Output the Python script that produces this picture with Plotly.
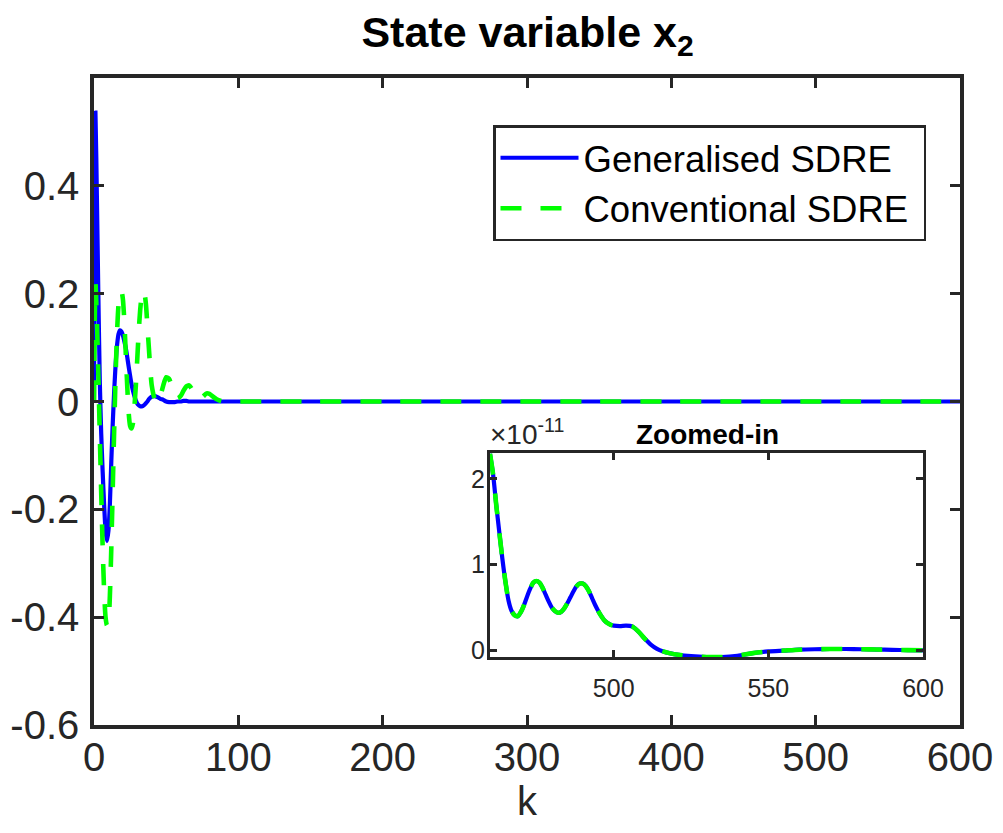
import plotly.graph_objects as go

# ---------------- data ----------------
# early transient, main axes
k_early = [0, 1, 2, 3, 4, 5, 6, 7, 8, 9, 10, 11, 12, 13, 14, 15, 16, 17, 18, 19, 20,
           21, 22, 23, 24, 25, 26, 27, 28, 29, 30, 31, 32, 33, 34, 35, 36, 37, 38, 39, 40,
           42, 44, 46, 48, 50, 52, 54, 56, 58, 60, 62, 64, 66, 68, 70, 72, 75, 78, 80,
           82, 85, 88, 90, 95, 100]
gen_early = [0.0, 0.536, 0.38, 0.20, 0.04, -0.06, -0.13, -0.19, -0.24, -0.259, -0.24,
             -0.19, -0.11, -0.04, 0.02, 0.07, 0.105, 0.125, 0.132, 0.13, 0.123,
             0.112, 0.10, 0.083, 0.065, 0.048, 0.032, 0.02, 0.01, 0.002, -0.004,
             -0.007, -0.009, -0.009, -0.008, -0.006, -0.003, 0.0, 0.004, 0.007, 0.009,
             0.01, 0.008, 0.005, 0.003, 0.0, -0.001, -0.001, -0.001, 0.0, 0.0, 0.001,
             0.001, 0.0, 0.0, 0.0, 0.0, 0.0, 0.0, 0.0,
             0.0, 0.0, 0.0, 0.0, 0.0, 0.0]
conv_early = [0.0, 0.22, 0.15, 0.05, -0.06, -0.17, -0.27, -0.35, -0.40, -0.415, -0.41,
              -0.36, -0.27, -0.16, -0.05, 0.05, 0.13, 0.18, 0.20, 0.205, 0.19,
              0.15, 0.09, 0.03, -0.02, -0.045, -0.05, -0.04, -0.01, 0.03, 0.08,
              0.13, 0.17, 0.195, 0.205, 0.20, 0.18, 0.14, 0.10, 0.06, 0.03,
              0.005, -0.003, 0.01, 0.03, 0.045, 0.042, 0.028, 0.012, 0.006, 0.01,
              0.02, 0.028, 0.03, 0.022, 0.012, 0.005, 0.008, 0.015, 0.014,
              0.01, 0.004, 0.001, 0.0, 0.0, 0.0]

# settled part (values are ~0 at the main scale)
k_mid = [150, 200, 250, 300, 350, 400, 450]
gen_mid = [0.0, 0.0, 0.0, 0.0, 0.0, 0.0, 0.0]
conv_mid = [0.0, 0.0, 0.0, 0.0, 0.0, 0.0, 0.0]

# tail shown in the zoomed-in inset, in units of 1e-11 (both controllers coincide)
k_tail = [460, 461, 462, 463, 464, 465, 466, 467, 468, 469, 470, 471, 472, 473, 474,
          475, 476, 477, 478, 479, 480, 481, 482, 483, 484, 485, 486, 487, 488, 489,
          490, 491, 492, 493, 494, 495, 496, 497, 498, 499, 500, 502, 504, 506, 508,
          510, 512, 514, 516, 518, 521, 525, 530, 535, 540, 545, 550, 555, 560, 565,
          570, 575, 580, 585, 590, 595, 600]
tail_e11 = [2.29, 2.05, 1.70, 1.38, 1.07, 0.80, 0.58, 0.46, 0.41, 0.40, 0.45, 0.53,
            0.63, 0.72, 0.79, 0.81, 0.79, 0.73, 0.65, 0.57, 0.50, 0.46, 0.44, 0.45,
            0.49, 0.55, 0.62, 0.69, 0.75, 0.78, 0.78, 0.75, 0.69, 0.61, 0.53, 0.46,
            0.40, 0.35, 0.32, 0.30, 0.29, 0.285, 0.29, 0.28, 0.22, 0.14, 0.07, 0.02,
            -0.01, -0.03, -0.05, -0.065, -0.075, -0.075, -0.06, -0.03, -0.01, 0.0,
            0.01, 0.015, 0.018, 0.018, 0.015, 0.012, 0.008, 0.005, 0.003]
tail_scale = 1e-11

x_ticks_main = [0, 100, 200, 300, 400, 500, 600]
y_ticks_main = [-0.6, -0.4, -0.2, 0, 0.2, 0.4]
y_ticktext_main = ["-0.6", "-0.4", "-0.2", "0", "0.2", "0.4"]
x_ticks_inset = [500, 550, 600]
y_ticks_inset_e11 = [0, 1, 2]

# ---------------- build ----------------
tail = [v * tail_scale for v in tail_e11]
k_all = k_early + k_mid + k_tail
gen_all = gen_early + gen_mid + tail
conv_all = conv_early + conv_mid + tail

BLUE = "#0000FF"
GREEN = "#00FF00"
AX = "#262626"
FONT = "Liberation Sans, Arial, sans-serif"
PAD = "\u00a0"

fig = go.Figure()
fig.add_trace(go.Scatter(x=k_all, y=gen_all, mode="lines", name="Generalised SDRE" + PAD,
                         line=dict(color=BLUE, width=4.2, shape="spline", smoothing=0.6),
                         xaxis="x", yaxis="y"))
fig.add_trace(go.Scatter(x=k_all, y=conv_all, mode="lines", name="Conventional SDRE" + PAD,
                         line=dict(color=GREEN, width=4.6, dash="21px,19px",
                                   shape="spline", smoothing=0.6),
                         xaxis="x", yaxis="y"))
# inset
fig.add_trace(go.Scatter(x=k_tail, y=tail, mode="lines", showlegend=False,
                         line=dict(color=BLUE, width=4.2, shape="spline", smoothing=0.8),
                         xaxis="x2", yaxis="y2"))
fig.add_trace(go.Scatter(x=k_tail, y=tail, mode="lines", showlegend=False,
                         line=dict(color=GREEN, width=4.6, dash="21px,19px",
                                   shape="spline", smoothing=0.8),
                         xaxis="x2", yaxis="y2"))

axis_common = dict(showgrid=False, zeroline=False, showline=True, linecolor=AX,
                   ticks="inside", mirror="ticks", tickcolor=AX, automargin=False)

fig.update_layout(
    width=1003, height=833,
    margin=dict(l=0, r=0, t=0, b=0, autoexpand=False),
    paper_bgcolor="white", plot_bgcolor="white",
    font=dict(family=FONT, color=AX),
    title=dict(text="<b>State variable x<sub>2</sub></b>", x=0.526, xanchor="center",
               y=1 - 32 / 833, yanchor="middle", font=dict(size=43, color="black", family=FONT)),
    xaxis=dict(domain=[94 / 1003, 960 / 1003], range=[0, 600], tickvals=x_ticks_main,
               linewidth=3.5, tickwidth=3, ticklen=10, tickfont=dict(size=40, color=AX),
               ticklabelstandoff=-6,
               title=dict(text="k", font=dict(size=40, color=AX), standoff=0),
               anchor="y", **axis_common),
    yaxis=dict(domain=[1 - 725 / 833, 1 - 78 / 833], range=[-0.6, 0.6],
               tickvals=y_ticks_main, ticktext=y_ticktext_main,
               linewidth=3.5, tickwidth=3, ticklen=10, tickfont=dict(size=40, color=AX),
               ticklabelstandoff=3, anchor="x", **axis_common),
    xaxis2=dict(domain=[490 / 1003, 923 / 1003], range=[460, 600], tickvals=x_ticks_inset,
                linewidth=3, tickwidth=2.5, ticklen=7, tickfont=dict(size=25, color=AX),
                ticklabelstandoff=7, anchor="y2", **axis_common),
    yaxis2=dict(domain=[1 - 657 / 833, 1 - 453 / 833],
                range=[-0.075 * tail_scale, 2.30 * tail_scale],
                tickvals=[v * tail_scale for v in y_ticks_inset_e11],
                ticktext=[str(v) for v in y_ticks_inset_e11],
                linewidth=3, tickwidth=2.5, ticklen=7, tickfont=dict(size=25, color=AX),
                ticklabelstandoff=-3, anchor="x2", **axis_common),
    legend=dict(x=926 / 1003, xanchor="right", y=1 - 125 / 833, yanchor="top",
                bgcolor="white", bordercolor=AX, borderwidth=2.5,
                font=dict(size=36.5, color="black", family=FONT), itemwidth=78,
                tracegroupgap=0),
    annotations=[
        dict(text="<b>Zoomed-in</b>", xref="paper", yref="paper",
             x=707 / 1003, y=1 - 435 / 833, xanchor="center", yanchor="middle",
             showarrow=False, font=dict(size=28, color="black", family=FONT)),
        dict(text="\u00d710<sup>-11</sup>", xref="paper", yref="paper",
             x=488 / 1003, y=1 - 452 / 833, xanchor="left", yanchor="bottom",
             showarrow=False, font=dict(size=28, color=AX, family=FONT)),
    ],
)

fig.write_html("out.html")
